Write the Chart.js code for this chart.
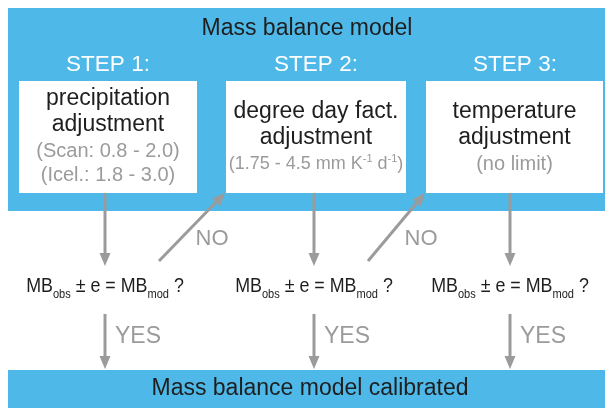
<!DOCTYPE html>
<html>
<head>
<meta charset="utf-8">
<script src="https://cdn.jsdelivr.net/npm/chart.js@4/dist/chart.umd.min.js"></script>
<style>
  html, body { margin: 0; padding: 0; background: #fff; }
  #flow { display: block; }
</style>
</head>
<body>
<canvas id="flow" width="605" height="408"></canvas>
<script>
// texts of the flow chart
const modelTitle = "Mass balance model";
const footerTitle = "Mass balance model calibrated";
const stepLabels = ["STEP 1:", "STEP 2:", "STEP 3:"];
const boxTitles = [
  ["precipitation", "adjustment"],
  ["degree day fact.", "adjustment"],
  ["temperature", "adjustment"],
];
// ^ marks a superscript part
const boxRanges = [
  ["(Scan: 0.8 - 2.0)", "(Icel.: 1.8 - 3.0)"],
  ["(1.75 - 4.5 mm K^-1^ d^-1^)"],
  ["(no limit)"],
];
const yesLabel = "YES";
const noLabel = "NO";

// layout in canvas units (x: 0..605, y: 0..408 top-down)
const stepCenterX = [108, 316, 515];
const arrowX = [105, 314, 510];
const boxLeft = [19, 226, 426];
const boxRight = [197, 406, 603];
const rangeSize = [20, 18, 20];

const BLUE = "#4eb9e9";
const GREY = "#9b9b9b";
const TEXT = "#1e1e1e";
const FONT = "'Liberation Sans', Arial, sans-serif";

function font(size) {
  return size + "px " + FONT;
}

// draws text pieces side by side, centered on cx
function drawRich(ctx, parts, cx, cy, size, color, squeeze) {
  const k = squeeze || 1;
  ctx.save();
  ctx.fillStyle = color;
  ctx.textBaseline = "middle";
  ctx.textAlign = "left";
  let total = 0;
  for (const p of parts) {
    ctx.font = font(p.small ? Math.round(size * 0.6) : size);
    total += ctx.measureText(p.t).width;
  }
  ctx.translate(cx, cy);
  ctx.scale(k, 1);
  let x = -total / 2;
  for (const p of parts) {
    ctx.font = font(p.small ? Math.round(size * 0.6) : size);
    ctx.fillText(p.t, x, p.dy || 0);
    x += ctx.measureText(p.t).width;
  }
  ctx.restore();
}

function parseSup(str) {
  return str.split("^").map((t, i) => (i % 2 ? { t: t, small: true, dy: -5 } : { t: t }));
}

function arrow(ctx, x1, y1, x2, y2) {
  const ang = Math.atan2(y2 - y1, x2 - x1);
  const head = 13;
  const bx = x2 - head * Math.cos(ang);
  const by = y2 - head * Math.sin(ang);
  ctx.strokeStyle = GREY;
  ctx.fillStyle = GREY;
  ctx.lineWidth = 3;
  ctx.beginPath();
  ctx.moveTo(x1, y1);
  ctx.lineTo(bx, by);
  ctx.stroke();
  ctx.beginPath();
  ctx.moveTo(x2, y2);
  ctx.lineTo(bx + 5.5 * Math.sin(ang), by - 5.5 * Math.cos(ang));
  ctx.lineTo(bx - 5.5 * Math.sin(ang), by + 5.5 * Math.cos(ang));
  ctx.closePath();
  ctx.fill();
}

const flowPlugin = {
  id: "flow",
  afterDraw(chart) {
    const ctx = chart.ctx;
    const sx = chart.scales.x;
    const sy = chart.scales.y;
    const X = (v) => sx.getPixelForValue(v);
    const Y = (v) => sy.getPixelForValue(v);
    ctx.save();

    // blue panels
    ctx.fillStyle = BLUE;
    ctx.fillRect(X(8), Y(8), X(605) - X(8), Y(211) - Y(8));
    ctx.fillRect(X(8), Y(370), X(605) - X(8), Y(408) - Y(370));

    drawRich(ctx, [{ t: modelTitle }], X(307), Y(29), 23, TEXT);
    drawRich(ctx, [{ t: footerTitle }], X(310), Y(389), 23, TEXT);

    stepLabels.forEach((s, i) => {
      drawRich(ctx, [{ t: s }], X(stepCenterX[i]), Y(65), 22.5, "#ffffff");

      ctx.fillStyle = "#ffffff";
      ctx.fillRect(X(boxLeft[i]), Y(81), X(boxRight[i]) - X(boxLeft[i]), Y(193) - Y(81));

      const cx = X((boxLeft[i] + boxRight[i]) / 2);
      const lines = boxTitles[i];
      const ranges = boxRanges[i];
      const startY = ranges.length > 1 ? 99 : 112;
      lines.forEach((l, j) => drawRich(ctx, [{ t: l }], cx, Y(startY + j * 26), 23, TEXT));
      ranges.forEach((r, j) =>
        drawRich(ctx, parseSup(r), cx, Y(startY + 52 + j * 24), rangeSize[i], GREY)
      );

      // down to the question, then YES to the bottom bar
      arrow(ctx, X(arrowX[i]), Y(193), X(arrowX[i]), Y(266));
      arrow(ctx, X(arrowX[i]), Y(314), X(arrowX[i]), Y(369));
      drawRich(ctx, [{ t: yesLabel }], X(arrowX[i] + 33), Y(337), 23, GREY);

      // MB_obs ± e = MB_mod ?
      drawRich(
        ctx,
        [
          { t: "MB" },
          { t: "obs", small: true, dy: 8 },
          { t: " ± e = MB" },
          { t: "mod", small: true, dy: 8 },
          { t: " ?" },
        ],
        X(arrowX[i]),
        Y(286),
        21,
        TEXT,
        0.85
      );
    });

    // NO: back up to the next step box
    for (let i = 0; i < 2; i++) {
      arrow(ctx, X(arrowX[i] + 54), Y(261), X(boxLeft[i + 1] - 1), Y(193));
      drawRich(ctx, [{ t: noLabel }], X(arrowX[i] + 107), Y(239), 22, GREY);
    }
    ctx.restore();
  },
};

new Chart(document.getElementById("flow"), {
  type: "scatter",
  data: { datasets: [{ data: [] }] },
  options: {
    responsive: false,
    animation: false,
    layout: { padding: 0 },
    plugins: { legend: { display: false }, tooltip: { enabled: false } },
    scales: {
      x: { type: "linear", min: 0, max: 605, display: false },
      y: { type: "linear", min: 0, max: 408, reverse: true, display: false },
    },
  },
  plugins: [flowPlugin],
});
</script>
</body>
</html>
